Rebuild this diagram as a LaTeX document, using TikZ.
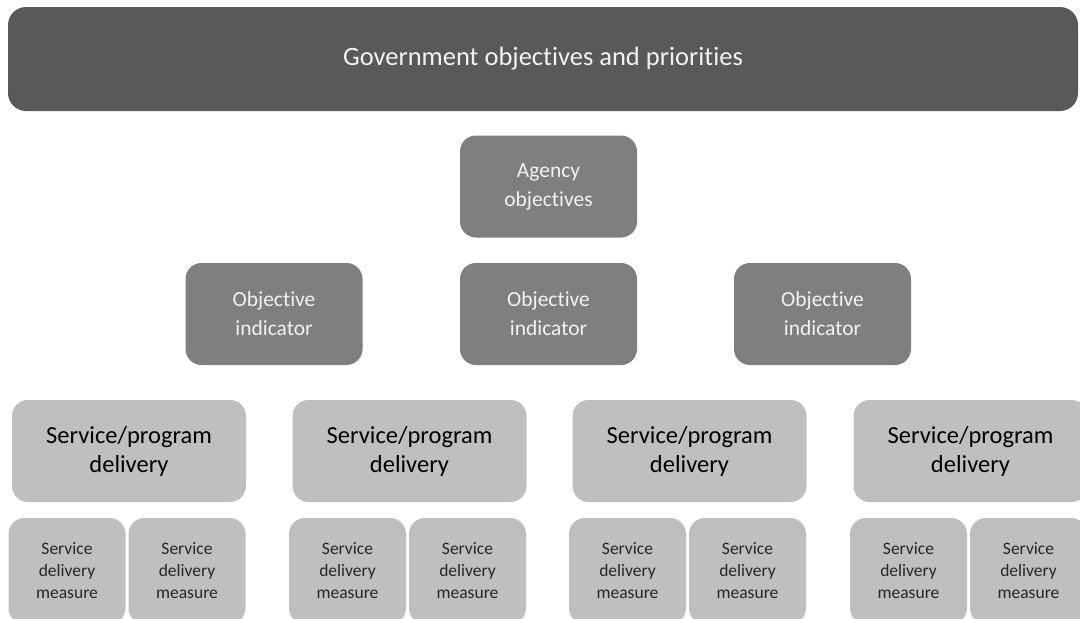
\documentclass[tikz,border=0pt]{standalone}
\usepackage{fontspec}
\setmainfont{Carlito}[Ligatures=NoCommon]
\usepackage{tikz}

\definecolor{darkbar}{HTML}{595959}
\definecolor{midgrey}{HTML}{7F7F7F}
\definecolor{lightgrey}{HTML}{BFBFBF}
\definecolor{paletext}{HTML}{F2F2F2}

\begin{document}
\begin{tikzpicture}[x=1pt,y=1pt,
    box/.style={rectangle, rounded corners=16pt, inner sep=0pt, align=center},
    govbox/.style={box, fill=darkbar, text=paletext, minimum width=1070pt, minimum height=104pt, rounded corners=18pt, font=\fontsize{26.5}{30}\selectfont},
    objbox/.style={box, fill=midgrey, text=paletext, minimum width=177pt, minimum height=102pt, text width=165pt, font=\fontsize{21.5}{29}\selectfont},
    svcbox/.style={box, fill=lightgrey, text=black, minimum width=234pt, minimum height=102pt, text width=220pt, font=\fontsize{24.5}{29}\selectfont},
    msrbox/.style={box, fill=lightgrey, text=black!85, minimum width=117pt, minimum height=106pt, text width=110pt, font=\fontsize{17.5}{22}\selectfont}]
          \useasboundingbox (0,0) rectangle (1080,-619);

          % Top levels
          \node[govbox] (gov) at (543,-59) {Government objectives and priorities};
          \node[objbox] (agency) at (548.5,-186.5) {Agency\\objectives};
          \node[objbox, below of=agency, node distance=127.5pt] (ind2) {Objective\\indicator};
          \node[objbox, left of=ind2, node distance=274.5pt] (ind1) {Objective\\indicator};
          \node[objbox, right of=ind2, node distance=274pt] (ind3) {Objective\\indicator};

          % Services
          \node[svcbox] (svc1) at (129,-451) {Service/program\\delivery};
          \node[svcbox, right of=svc1, node distance=280.5pt] (svc2) {Service/program\\delivery};
          \node[svcbox, right of=svc2, node distance=280pt] (svc3) {Service/program\\delivery};
          \node[svcbox, right of=svc3, node distance=281pt] (svc4) {Service/program\\delivery};

          % Measures
          \node[msrbox, below of=svc1, node distance=120pt, xshift=-62pt] (msr1a) {Service\\delivery\\measure};
          \node[msrbox, below of=svc1, node distance=120pt, xshift=58pt] (msr1b) {Service\\delivery\\measure};
          \node[msrbox, below of=svc2, node distance=120pt, xshift=-62pt] (msr2a) {Service\\delivery\\measure};
          \node[msrbox, below of=svc2, node distance=120pt, xshift=58pt] (msr2b) {Service\\delivery\\measure};
          \node[msrbox, below of=svc3, node distance=120pt, xshift=-62pt] (msr3a) {Service\\delivery\\measure};
          \node[msrbox, below of=svc3, node distance=120pt, xshift=58pt] (msr3b) {Service\\delivery\\measure};
          \node[msrbox, below of=svc4, node distance=120pt, xshift=-62pt] (msr4a) {Service\\delivery\\measure};
          \node[msrbox, below of=svc4, node distance=120pt, xshift=58pt] (msr4b) {Service\\delivery\\measure};
        \end{tikzpicture}
\end{document}
